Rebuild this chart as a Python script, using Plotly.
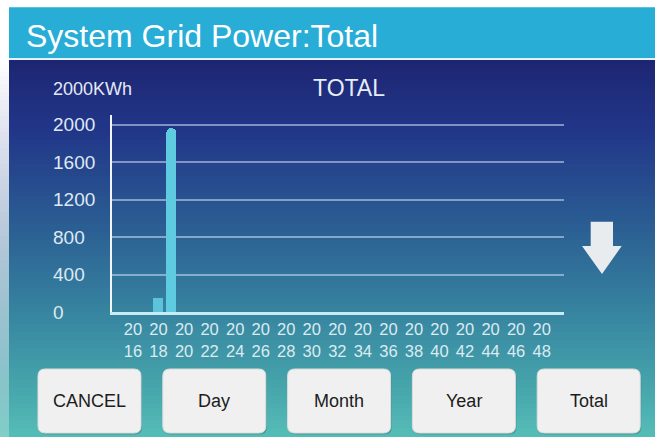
import plotly.graph_objects as go

# ---- data -------------------------------------------------------------
years = [2018, 2019]
energy_kwh = [150, 1960]
tick_years = list(range(2016, 2049, 2))
tick_text = [f"{str(y)[:2]}<br>{str(y)[2:]}" for y in tick_years]
y_ticks = [0, 400, 800, 1200, 1600, 2000]
buttons = ["CANCEL", "Day", "Month", "Year", "Total"]

# ---- canvas geometry (pixels) -----------------------------------------
W, H = 655, 437
PLOT_L, PLOT_R, PLOT_T, PLOT_B = 112.3, 564.0, 115.0, 312.3
X_RANGE = [2014.38, 2049.75]
Y_RANGE = [0, 2103]
FONT = "Liberation Sans, Arial, Helvetica, sans-serif"


def px(x):
    return x / W


def py(y):
    return 1 - y / H


def mix(c1, c2, t):
    return tuple(a + (b - a) * t for a, b in zip(c1, c2))


def hexrgb(h):
    h = h.lstrip("#")
    return tuple(int(h[i:i + 2], 16) for i in (0, 2, 4))


def css(c):
    return "rgb(%d,%d,%d)" % tuple(round(v) for v in c)


# background gradient stops (y pixel, colour)
stops = [(60, "#1d2672"), (130, "#213689"), (220, "#2a5b92"),
         (310, "#36839f"), (380, "#44a2aa"), (437, "#55bdb7")]


def grad(y):
    for (y0, c0), (y1, c1) in zip(stops, stops[1:]):
        if y <= y1:
            t = max(0.0, (y - y0) / (y1 - y0))
            return mix(hexrgb(c0), hexrgb(c1), t)
    return hexrgb(stops[-1][1])


shapes = []
step = 4
for y in range(60, H, step):
    c = grad(y + step / 2)
    shapes.append(dict(type="rect", xref="paper", yref="paper", layer="below",
                       x0=px(9), x1=1, y0=py(min(H, y + step + 0.6)), y1=py(y),
                       fillcolor=css(c), line=dict(width=0)))
    side = mix(c, (255, 255, 255), max(0.25, 1 - (y - 60) / 377 * 0.75))
    shapes.append(dict(type="rect", xref="paper", yref="paper", layer="below",
                       x0=0, x1=px(9), y0=py(min(H, y + step + 0.6)), y1=py(y),
                       fillcolor=css(side), line=dict(width=0)))

# title bar and its white rule
shapes.append(dict(type="rect", xref="paper", yref="paper", layer="below",
                   x0=px(9), x1=1, y0=py(58.3), y1=py(7.3),
                   fillcolor="#28add7", line=dict(width=0)))
shapes.append(dict(type="rect", xref="paper", yref="paper", layer="below",
                   x0=px(9), x1=1, y0=py(60), y1=py(58.3),
                   fillcolor="#e9f3f8", line=dict(width=0)))


def rounded_rect(x0, y0, x1, y1, r):
    X0, X1 = px(x0), px(x1)
    Y0, Y1 = py(y0), py(y1)
    rx, ry = r / W, r / H
    return (f"M {X0 + rx},{Y0} L {X1 - rx},{Y0} Q {X1},{Y0} {X1},{Y0 - ry} "
            f"L {X1},{Y1 + ry} Q {X1},{Y1} {X1 - rx},{Y1} "
            f"L {X0 + rx},{Y1} Q {X0},{Y1} {X0},{Y1 + ry} "
            f"L {X0},{Y0 - ry} Q {X0},{Y0} {X0 + rx},{Y0} Z")


annotations = []
btn_left, btn_w, btn_pitch = 38, 103, 124.8
btn_top, btn_bot = 369, 433
for i, label in enumerate(buttons):
    x0 = btn_left + i * btn_pitch
    shapes.append(dict(type="path", xref="paper", yref="paper", layer="above",
                       path=rounded_rect(x0 + 1, btn_top + 1.5, x0 + btn_w + 1, btn_bot + 1.5, 7),
                       fillcolor="rgba(20,60,80,0.25)", line=dict(width=0)))
    shapes.append(dict(type="path", xref="paper", yref="paper", layer="above",
                       path=rounded_rect(x0, btn_top, x0 + btn_w, btn_bot, 7),
                       fillcolor="#f0f0f0", line=dict(color="#dcdcdc", width=1)))
    annotations.append(dict(xref="paper", yref="paper", x=px(x0 + btn_w / 2), y=py(401),
                            text=label, showarrow=False, xanchor="center", yanchor="middle",
                            font=dict(family=FONT, size=18, color="#1c1c1c")))

# down arrow
ax = [590.7, 613, 613, 621.7, 602, 582, 590.7]
ay = [221.7, 221.7, 246, 246, 274, 246, 246]
arrow = "M " + " L ".join(f"{px(a)},{py(b)}" for a, b in zip(ax, ay)) + " Z"
shapes.append(dict(type="path", xref="paper", yref="paper", layer="above",
                   path=arrow, fillcolor="#e9ecee", line=dict(width=0)))

# texts
annotations.append(dict(xref="paper", yref="paper", x=px(24), y=py(36),
                        text="System Grid Power:Total", showarrow=False,
                        xanchor="left", yanchor="middle",
                        font=dict(family=FONT, size=32, color="#ffffff")))
annotations.append(dict(xref="paper", yref="paper", x=px(51), y=py(89),
                        text="2000KWh", showarrow=False, xanchor="left", yanchor="middle",
                        font=dict(family=FONT, size=18, color="#e3e9f4")))
annotations.append(dict(xref="paper", yref="paper", x=px(349), y=py(88),
                        text="TOTAL", showarrow=False, xanchor="center", yanchor="middle",
                        font=dict(family=FONT, size=23, color="#e6ecf6")))
for v in y_ticks:
    annotations.append(dict(xref="paper", yref="y", x=px(51), y=v,
                            text=str(v), showarrow=False, xanchor="left", yanchor="middle",
                            font=dict(family=FONT, size=19, color="#dfe8f3")))

fig = go.Figure()
fig.add_trace(go.Bar(x=years[:1], y=energy_kwh[:1], width=0.82,
                     marker=dict(color="#5cc3db", line=dict(width=0))))
fig.add_trace(go.Bar(x=years[1:], y=energy_kwh[1:], width=0.86,
                     marker=dict(color="#5fcbe0", line=dict(width=0), cornerradius=6)))

fig.update_layout(
    width=W, height=H,
    margin=dict(l=0, r=0, t=0, b=0),
    paper_bgcolor="#ffffff",
    plot_bgcolor="rgba(0,0,0,0)",
    showlegend=False,
    bargap=0,
    shapes=shapes,
    annotations=annotations,
    xaxis=dict(domain=[px(PLOT_L), px(PLOT_R)], range=X_RANGE,
               tickvals=tick_years, ticktext=tick_text, ticks="", showgrid=False,
               zeroline=False, showline=True, linecolor="#c6ecf4", linewidth=3,
               tickfont=dict(family=FONT, size=16.5, color="#dcebf1"), fixedrange=True),
    yaxis=dict(domain=[py(PLOT_B), py(PLOT_T)], range=Y_RANGE,
               tickvals=y_ticks, showticklabels=False, ticks="",
               showgrid=True, gridcolor="rgba(205,222,245,0.55)", gridwidth=1.5,
               zeroline=False, showline=True, linecolor="#f2f6fb", linewidth=2,
               fixedrange=True),
)

fig.write_html("out.html")
